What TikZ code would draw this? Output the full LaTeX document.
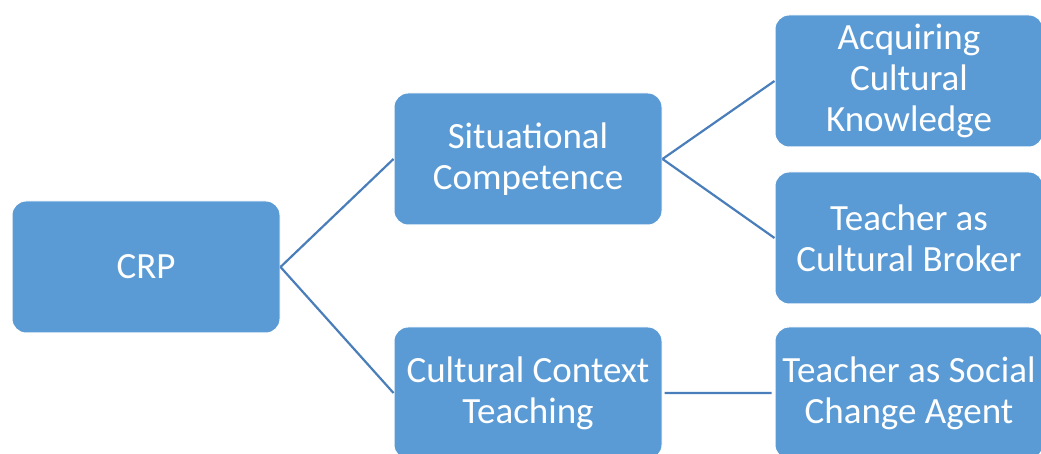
\documentclass[tikz,border=0pt]{standalone}
\usepackage{fontspec}
\setmainfont{Carlito}
\usetikzlibrary{positioning}
\definecolor{boxblue}{HTML}{5B9BD5}
\definecolor{lineblue}{HTML}{4A7EBB}

\begin{document}
\begin{tikzpicture} [
	x=1pt, y=1pt,
	every node/.style={font=\fontsize{37}{41}\selectfont, text=white},
	topic/.style={draw=white, line width=1pt, fill=boxblue, rounded corners=14pt,
		minimum width=268pt, minimum height=132pt, align=center, inner sep=2pt}, % box style
	link/.style={draw=lineblue, line width=2.2pt, shorten <=2pt, shorten >=3pt}, % connector style
	]
	\useasboundingbox (0,0) rectangle (1041,454);
	\node[topic] (crp) at (146,187) {CRP};
	\node[topic, right=113pt of crp, yshift=108pt] (sit) {Situational\\Competence};
	\node[topic, right=113pt of crp, yshift=-126pt] (cct) {Cultural Context\\Teaching};
	\node[topic, right=112pt of sit, yshift=78pt] (acq) {Acquiring\\Cultural\\Knowledge};
	\node[topic, below=24pt of acq] (broker) {Teacher as\\Cultural Broker};
	\node[topic, right=112pt of cct] (agent) {Teacher as Social\\Change Agent};
	\draw[link]
		(crp.east) -- (sit.west)
		(crp.east) -- (cct.west)
		(sit.east) -- (acq.west)
		(sit.east) -- (broker.west)
		(cct.east) -- (agent.west)
	;
\end{tikzpicture}
\end{document}
